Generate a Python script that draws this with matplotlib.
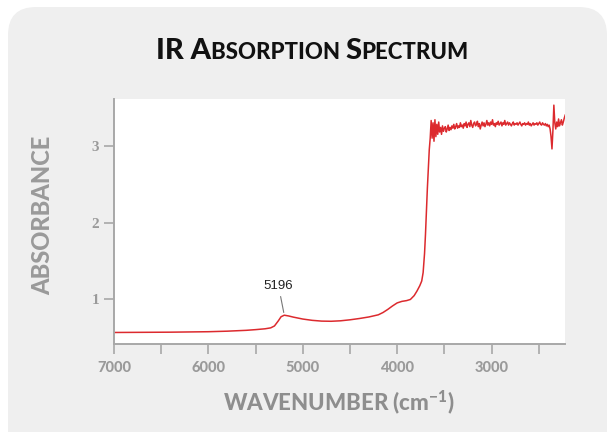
import matplotlib
matplotlib.use("Agg")
import matplotlib.pyplot as plt
from matplotlib.patches import FancyBboxPatch
from matplotlib.transforms import IdentityTransform

# smooth part of the spectrum (near-IR down to the absorption edge)
wn_edge = [7000, 6800, 6600, 6400, 6200, 6000, 5800, 5600, 5500, 5400, 5340,
           5300, 5260, 5230, 5196, 5150, 5100, 5000, 4900, 4800, 4700, 4600,
           4500, 4400, 4300, 4200, 4150, 4100, 4050, 4000, 3950, 3900, 3860,
           3820, 3790, 3760, 3740, 3725, 3710, 3700, 3690, 3680, 3670, 3660,
           3650]
abs_edge = [0.570, 0.571, 0.572, 0.574, 0.577, 0.580, 0.587, 0.598, 0.607,
            0.618, 0.630, 0.655, 0.720, 0.775, 0.795, 0.785, 0.770, 0.745,
            0.728, 0.718, 0.716, 0.722, 0.735, 0.752, 0.772, 0.800, 0.830,
            0.870, 0.915, 0.955, 0.975, 0.985, 1.000, 1.050, 1.110, 1.180,
            1.240, 1.350, 1.600, 1.850, 2.150, 2.450, 2.700, 2.950, 3.100]

# saturated, noisy region sampled every 10 cm-1 (3640 .. 2220)
wn_sat = list(range(3640, 2219, -10))
abs_sat = [3.33, 3.10, 3.30, 3.06, 3.34, 3.12, 3.28, 3.15, 3.31, 3.18,
           3.24, 3.15, 3.26, 3.19, 3.23, 3.25, 3.18, 3.22, 3.27, 3.20,
           3.24, 3.21, 3.26, 3.23, 3.28, 3.22, 3.25, 3.29, 3.23, 3.26,
           3.24, 3.30, 3.25, 3.27, 3.23, 3.29, 3.26, 3.31, 3.24, 3.28,
           3.30, 3.25, 3.33, 3.27, 3.24, 3.29, 3.31, 3.26, 3.28, 3.32,
           3.25, 3.29, 3.22, 3.27, 3.31, 3.26, 3.30, 3.25, 3.28, 3.33,
           3.27, 3.30, 3.26, 3.31, 3.28, 3.34, 3.27, 3.29, 3.25, 3.30,
           3.28, 3.32, 3.27, 3.29, 3.31, 3.26, 3.30, 3.28, 3.33, 3.27,
           3.29, 3.31, 3.27, 3.30, 3.28, 3.26, 3.29, 3.31, 3.27, 3.29,
           3.28, 3.30, 3.27, 3.29, 3.31, 3.28, 3.26, 3.29, 3.28, 3.30,
           3.27, 3.29, 3.28, 3.31, 3.27, 3.29, 3.26, 3.28, 3.30, 3.27,
           3.29, 3.28, 3.30, 3.27, 3.29, 3.31, 3.28, 3.27, 3.30, 3.28,
           3.27, 3.29, 3.26, 3.28, 3.25, 3.27, 3.22, 3.12, 2.96, 3.20,
           3.53, 3.30, 3.22, 3.31, 3.25, 3.35, 3.26, 3.30, 3.34, 3.27,
           3.31, 3.36, 3.40]

peak_wn = 5196
peak_abs = 0.795

x_ticks = [7000, 6000, 5000, 4000, 3000]
x_minor = [6500, 5500, 4500, 3500, 2500]
y_ticks = [1, 2, 3]

wavenumber = wn_edge + wn_sat
absorbance = abs_edge + abs_sat

gray = "#9a9a9a"
red = "#dc2a2e"

fig = plt.figure(figsize=(6.08, 4.32), dpi=100, facecolor="white")

# rounded grey panel behind everything
panel = FancyBboxPatch((8, -40), 599, 465, boxstyle="round,pad=0,rounding_size=28",
                       transform=IdentityTransform(), facecolor="#efefef",
                       edgecolor="none", zorder=-5)
fig.patches.append(panel)

ax = fig.add_axes([114 / 608, 1 - 344 / 432, (565 - 114) / 608, (344 - 99) / 432])
ax.set_zorder(2)
ax.set_facecolor("white")
ax.plot(wavenumber, absorbance, color=red, lw=1.1)
ax.set_xlim(7000, 2222)
ax.set_ylim(0.42, 3.61)

for s in ["top", "right"]:
    ax.spines[s].set_visible(False)
for s in ["left", "bottom"]:
    ax.spines[s].set_color("#a8a8a8")
    ax.spines[s].set_linewidth(1.4)

ax.set_xticks(x_ticks)
ax.set_xticks(x_minor, minor=True)
ax.set_yticks(y_ticks)
ax.tick_params(axis="both", which="both", colors="#a8a8a8", width=1.2, length=7)
ax.tick_params(axis="x", which="both", pad=5)
for lab in ax.get_xticklabels():
    lab.set(family="Lato", weight="black", size=10.5, color=gray)
for lab in ax.get_yticklabels():
    lab.set(family="Liberation Serif", weight="bold", size=11, color=gray)

ax.annotate(str(peak_wn), xy=(peak_wn, peak_abs), xytext=(5256, 1.17),
            ha="center", va="center", fontsize=9.5, family="Liberation Sans",
            color="#222222",
            arrowprops=dict(arrowstyle="-", color="#777777", lw=0.8,
                            shrinkA=1, shrinkB=2))

fig.text(43 / 608, 1 - 215 / 432, "ABSORBANCE", rotation=90, ha="center",
         va="center", family="Lato", weight="black", size=17, color=gray)
fig.text(339 / 608, 1 - 402 / 432, "WAVENUMBER (cm$^{\\mathregular{-1}}$)",
         ha="center", va="center", family="Lato", weight="black", size=16,
         color="#8e8e8e")

# small-caps title built from pieces, centred as a whole
pieces = [("IR A", 21), ("BSORPTION ", 16), ("S", 21), ("PECTRUM", 16)]
renderer = fig.canvas.get_renderer()
texts = []
for s, size in pieces:
    t = fig.text(0, 1 - 59 / 432, s, family="Lato", weight="black", size=size,
                 color="#111111", va="baseline", ha="left")
    texts.append(t)
widths = [t.get_window_extent(renderer).width for t in texts]
x = 312 - sum(widths) / 2
for t, w in zip(texts, widths):
    t.set_x(x / 608)
    x += w

fig.savefig("out.png", dpi=100, facecolor="white")
